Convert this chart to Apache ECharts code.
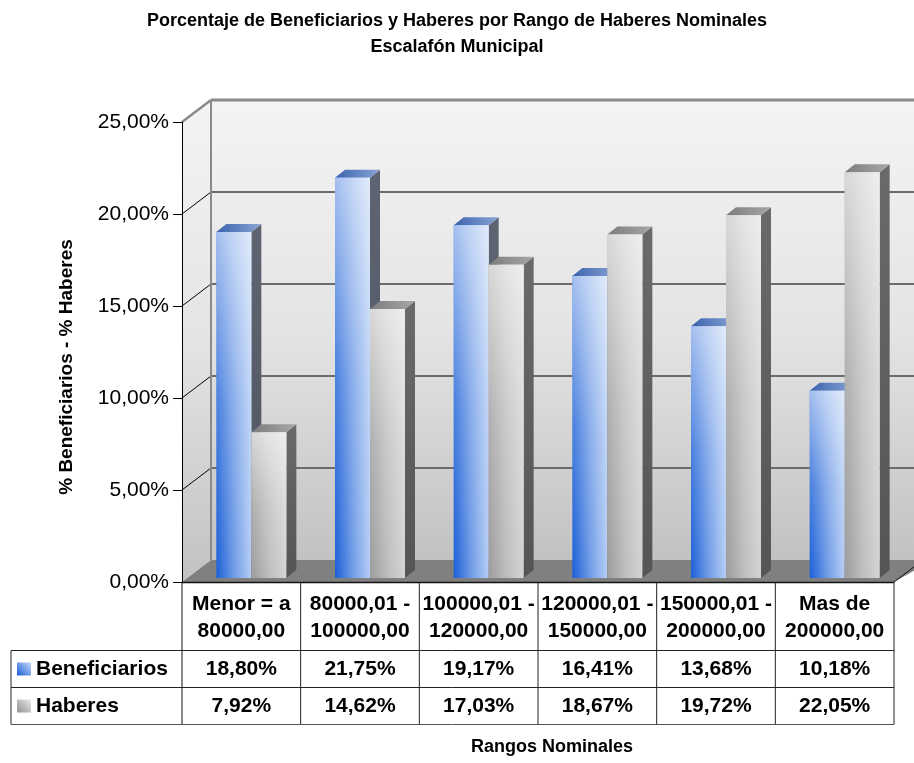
<!DOCTYPE html>
<html><head><meta charset="utf-8">
<script src="https://cdn.jsdelivr.net/npm/echarts@6/dist/echarts.min.js"></script>
<style>html,body{margin:0;padding:0;background:#fff}#c{width:914px;height:763px}</style>
</head><body><div id="c"></div>
<script>
// ---- data ----
const titleLines = ['Porcentaje de Beneficiarios y Haberes por Rango de Haberes Nominales', 'Escalafón Municipal'];
const categories = ['Menor = a\n80000,00', '80000,01 -\n100000,00', '100000,01 -\n120000,00', '120000,01 -\n150000,00', '150000,01 -\n200000,00', 'Mas de\n200000,00'];
const seriesNames = ['Beneficiarios', 'Haberes'];
const beneficiarios = [18.80, 21.75, 19.17, 16.41, 13.68, 10.18];
const haberes = [7.92, 14.62, 17.03, 18.67, 19.72, 22.05];
const yTicks = [0, 5, 10, 15, 20, 25];
const yAxisName = '% Beneficiarios - % Haberes';
const xAxisName = 'Rangos Nominales';

const fmt = v => v.toFixed(2).replace('.', ',') + '%';
const FONT = '"Liberation Sans", Arial, Helvetica, sans-serif';

// ---- style / layout constants ----
const DX = 29, DY = 22;      // wall depth
const BDX = 10, BDY = 8;     // bar depth
const LIFT = 4;              // bars sit slightly back on the floor
const BAR_W = 35;
const BAR_OFF = [-25, 10];
const ROW_LINES = [68.5, 105.5, 142.5]; // below grid bottom
const ROW_CENTERS = [87.5, 124.5];
const TABLE_LEFT = 11;
const TABLE_FS = 21;
const W = 914;

const lg = (x, y, x2, y2, stops) => new echarts.graphic.LinearGradient(x, y, x2, y2, stops.map((c, i) => ({offset: i / (stops.length - 1), color: c})));
const wallGrad = () => lg(0, 0, 0, 1, ['#f4f4f4', '#e4e4e4', '#c2c2c2']);
const frontGrad = [
  () => lg(0, 0, 1, 0, ['#1b5fd7', '#6f9be6', '#b4cdf5']),
  () => lg(0, 0, 1, 0, ['#9c9c9c', '#bdbdbd', '#d4d4d4'])
];
const overlayGrad = () => lg(0, 0, 0, 1, ['rgba(255,255,255,0.6)', 'rgba(255,255,255,0.2)', 'rgba(255,255,255,0)']);
const topGrad = [
  () => lg(0, 1, 1, 0, ['#3a62ad', '#8ba6d6']),
  () => lg(0, 1, 1, 0, ['#7c7c7c', '#a8a8a8'])
];
const sideCol = [
  () => lg(0, 0, 0, 1, ['#5f6472', '#4e5360']),
  () => lg(0, 0, 0, 1, ['#6a6a6a', '#555555'])
];
const keyGrad = [
  () => lg(0, 1, 1, 0, ['#1b5fd7', '#c5d9f7']),
  () => lg(0, 1, 1, 0, ['#8f8f8f', '#ececec'])
];

function line(x1, y1, x2, y2, stroke, lw) {
  return {type: 'line', shape: {x1, y1, x2, y2}, style: {stroke, lineWidth: lw}};
}

function renderFrame(params, api) {
  const cs = params.coordSys;
  const x0 = cs.x, x1 = cs.x + cs.width;
  const yTop = api.coord([0, yTicks[yTicks.length - 1]])[1];
  const yBot = api.coord([0, yTicks[0]])[1];
  const ch = [];
  ch.push({type: 'rect', shape: {x: x0 + DX, y: yTop - DY, width: W - (x0 + DX) + 10, height: yBot - yTop}, style: {fill: wallGrad()}});
  ch.push({type: 'polygon', shape: {points: [[x0, yTop], [x0 + DX, yTop - DY], [x0 + DX, yBot - DY], [x0, yBot]]}, style: {fill: wallGrad()}});
  yTicks.forEach((v, k) => {
    if (k === 0 || k === yTicks.length - 1) return;
    const y = api.coord([0, v])[1];
    ch.push(line(x0 + DX, y - DY, W + 10, y - DY, '#6b6b6b', 2));
    ch.push(line(x0, y, x0 + DX, y - DY, '#000', 1));
  });
  ch.push(line(x0 + DX, yTop - DY, W + 10, yTop - DY, '#8a8a8a', 3));
  ch.push(line(x0, yTop, x0 + DX, yTop - DY, '#8a8a8a', 2.5));
  ch.push(line(x0 + DX, yTop - DY, x0 + DX, yBot - DY, '#8a8a8a', 2));
  ch.push({type: 'polygon', shape: {points: [[x0, yBot], [x0 + DX, yBot - DY], [x1 + DX + 10, yBot - DY], [x1, yBot]]}, style: {fill: '#808080'}});
  ch.push(line(x1, yBot, x1 + DX, yBot - DY, '#111', 1));
  return {type: 'group', children: ch};
}

function renderBars(params, api) {
  const i = api.value(0);
  const base = api.coord([i, 0]);
  const cx = base[0], y0 = base[1] - LIFT;
  const vals = [api.value(1), api.value(2)];
  const ch = [];
  vals.forEach((v, k) => {
    const left = cx + BAR_OFF[k];
    const right = left + BAR_W;
    const top = api.coord([i, v])[1] - LIFT;
    ch.push({type: 'polygon', shape: {points: [[right, top], [right + BDX, top - BDY], [right + BDX, y0 - BDY], [right, y0]]}, style: {fill: sideCol[k]()}});
    ch.push({type: 'polygon', shape: {points: [[left, top], [left + BDX, top - BDY], [right + BDX, top - BDY], [right, top]]}, style: {fill: topGrad[k]()}});
    ch.push({type: 'rect', shape: {x: left, y: top, width: BAR_W, height: y0 - top}, style: {fill: frontGrad[k]()}});
    ch.push({type: 'rect', shape: {x: left, y: top, width: BAR_W, height: y0 - top}, style: {fill: overlayGrad()}});
  });
  return {type: 'group', children: ch};
}

function renderTable(params, api) {
  const cs = params.coordSys;
  const x0 = cs.x, x1 = cs.x + cs.width;
  const yb = api.coord([0, 0])[1];
  const i = api.value(0);
  const cx = api.coord([i, 0])[0];
  const bw = api.size([1, 0])[0];
  const vals = [api.value(1), api.value(2)];
  const ch = [];
  const txt = (text, x, y, align) => ({type: 'text', style: {text, x, y, align: align || 'center', verticalAlign: 'middle', fontSize: TABLE_FS, fontWeight: 'bold', fontFamily: FONT, fill: '#000'}});
  vals.forEach((v, k) => ch.push(txt(fmt(v), cx, yb + ROW_CENTERS[k])));
  ch.push(line(cx + bw / 2, yb, cx + bw / 2, yb + ROW_LINES[2], '#222', 1));
  if (i === 0) {
    ch.push(line(x0, yb + 0.5, x1, yb + 0.5, '#111', 1.5));
    ch.push(line(x0, yb, x0, yb + ROW_LINES[2], '#111', 1));
    ch.push(line(TABLE_LEFT, yb + ROW_LINES[0], TABLE_LEFT, yb + ROW_LINES[2], '#222', 1));
    ROW_LINES.forEach((r, k) => ch.push(line(TABLE_LEFT, yb + r, x1, yb + r, k === 2 ? '#555' : '#222', 1)));
    seriesNames.forEach((n, k) => {
      const yc = yb + ROW_CENTERS[k];
      ch.push({type: 'rect', shape: {x: 17, y: yc - 7, width: 14, height: 13}, style: {fill: keyGrad[k]()}});
      ch.push(txt(n, 36, yc, 'left'));
    });
  }
  return {type: 'group', children: ch};
}

const chart = echarts.init(document.getElementById('c'), null, {renderer: 'canvas'});
chart.setOption({
  animation: false,
  backgroundColor: '#fff',
  title: {
    text: titleLines.join('\n'), left: 'center', top: 8, padding: 0,
    textStyle: {fontSize: 18, fontWeight: 'bold', fontFamily: FONT, color: '#000', lineHeight: 26}
  },
  grid: {left: 182, right: 20, top: 122, bottom: 181, containLabel: false},
  xAxis: {
    type: 'category', data: categories,
    axisLine: {show: false}, axisTick: {show: false}, splitLine: {show: false},
    axisLabel: {interval: 0, margin: 9, fontSize: TABLE_FS, fontWeight: 'bold', fontFamily: FONT, color: '#000', lineHeight: 27}
  },
  yAxis: {
    type: 'value', min: 0, max: 25, interval: 5, z: 10,
    axisLine: {show: true, lineStyle: {color: '#000', width: 1}},
    axisTick: {show: true, length: 9, lineStyle: {color: '#000'}},
    splitLine: {show: false},
    axisLabel: {margin: 13, fontSize: 21, fontFamily: FONT, color: '#000', formatter: fmt}
  },
  graphic: [
    {type: 'text', x: 67, y: 367, rotation: Math.PI / 2, style: {text: yAxisName, align: 'center', verticalAlign: 'middle', fontSize: 19, fontWeight: 'bold', fontFamily: FONT, fill: '#000'}},
    {type: 'text', x: 552, y: 747, style: {text: xAxisName, align: 'center', verticalAlign: 'middle', fontSize: 18, fontWeight: 'bold', fontFamily: FONT, fill: '#000'}}
  ],
  series: [
    {type: 'custom', name: 'frame', z: 1, silent: true, clip: false, renderItem: renderFrame, data: [[0, 0]], encode: {x: 0, y: 1}},
    {type: 'custom', name: 'bars', z: 2, clip: false, renderItem: renderBars,
     data: categories.map((c, i) => [i, beneficiarios[i], haberes[i]]), encode: {x: 0, y: [1, 2]}},
    {type: 'custom', name: 'tabla', z: 3, silent: true, clip: false, renderItem: renderTable,
     data: categories.map((c, i) => [i, beneficiarios[i], haberes[i]]), encode: {x: 0, y: [1, 2]}}
  ]
});
</script></body></html>
